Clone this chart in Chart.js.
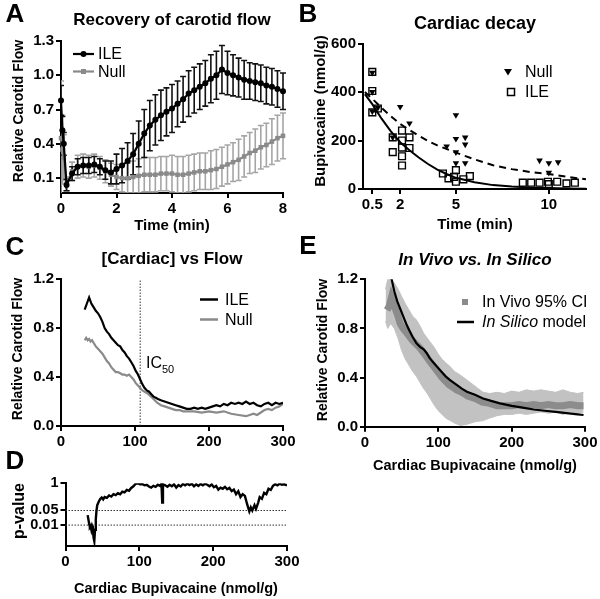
<!DOCTYPE html>
<html><head><meta charset="utf-8">
<script src="https://cdn.jsdelivr.net/npm/chart.js"></script>
<style>
html,body{margin:0;padding:0;background:#fff;}
#wrap{position:relative;width:600px;height:599px;overflow:hidden;background:#fff;font-family:'Liberation Sans',Arial,Helvetica,sans-serif;color:#000;}
canvas{position:absolute;left:0;top:0;}
svg{position:absolute;left:0;top:0;}
.t{position:absolute;white-space:nowrap;transform:translate(-50%,-50%);line-height:1;font-weight:bold;font-size:15px;}
.ti{font-size:17px;}
.v{transform:translate(-50%,-50%) rotate(-90deg);}
.lab{font-size:26px;}
.lg{position:absolute;white-space:nowrap;font-size:16px;line-height:1;transform:translateY(-50%);}
</style></head><body><div id="wrap">
<canvas id="cA" width="600" height="599"></canvas>
<canvas id="cB" width="600" height="599"></canvas>
<canvas id="cC" width="600" height="599"></canvas>
<canvas id="cD" width="600" height="599"></canvas>
<canvas id="cE" width="600" height="599"></canvas>
<svg width="600" height="599">
 <line x1="73" y1="54" x2="94" y2="54" stroke="#000" stroke-width="2.2"/><circle cx="83.5" cy="54" r="3" fill="#000"/>
 <line x1="73" y1="71.5" x2="94" y2="71.5" stroke="#8a8a8a" stroke-width="2.2"/><rect x="81" y="69" width="5" height="5" fill="#8a8a8a"/>
 <polygon points="504,69 512,69 508,75.5" fill="#000"/>
 <rect x="507.5" y="88.5" width="7" height="7" fill="none" stroke="#000" stroke-width="1.5"/>
 <line x1="200" y1="299.5" x2="218" y2="299.5" stroke="#000" stroke-width="2.5"/>
 <line x1="200" y1="319.5" x2="218" y2="319.5" stroke="#8a8a8a" stroke-width="2.5"/>
 <rect x="462" y="299" width="6" height="6" fill="#8a8a8a"/>
 <line x1="457" y1="322" x2="474" y2="322" stroke="#000" stroke-width="2.5"/>
</svg>
<div class="t lab" style="left:15px;top:13px">A</div>
<div class="t lab" style="left:308px;top:13px">B</div>
<div class="t lab" style="left:15px;top:246px">C</div>
<div class="t lab" style="left:15px;top:460px">D</div>
<div class="t lab" style="left:308px;top:245px">E</div>
<div class="t ti" style="left:172px;top:19px">Recovery of carotid flow</div>
<div class="t ti" style="left:475px;top:23px;font-size:18px">Cardiac decay</div>
<div class="t ti" style="left:172px;top:258px">[Cardiac] vs Flow</div>
<div class="t ti" style="left:475px;top:259px;font-style:italic">In Vivo vs. In Silico</div>
<div class="t" style="left:172px;top:224px">Time (min)</div>
<div class="t" style="left:475px;top:223px">Time (min)</div>
<div class="t" style="left:176px;top:588px;font-size:14.5px">Cardiac Bupivacaine (nmol/g)</div>
<div class="t" style="left:475px;top:465px;font-size:14.5px">Cardiac Bupivacaine (nmol/g)</div>
<div class="t v" style="left:18px;top:111px;font-size:14px">Relative Carotid Flow</div>
<div class="t v" style="left:319px;top:111px">Bupivacaine (nmol/g)</div>
<div class="t v" style="left:17px;top:349px;font-size:14px">Relative Carotid Flow</div>
<div class="t v" style="left:19px;top:511px;font-size:16px">p-value</div>
<div class="t v" style="left:322px;top:350px;font-size:14px">Relative Carotid Flow</div>
<div class="lg" style="left:98px;top:54px">ILE</div>
<div class="lg" style="left:98px;top:71.5px">Null</div>
<div class="lg" style="left:525px;top:72px">Null</div>
<div class="lg" style="left:525px;top:92px">ILE</div>
<div class="lg" style="left:225px;top:299.5px">ILE</div>
<div class="lg" style="left:225px;top:319.5px">Null</div>
<div class="lg" style="left:482px;top:302px">In Vivo 95% CI</div>
<div class="lg" style="left:482px;top:322px"><i>In Silico</i> model</div>
<div class="lg" style="left:146px;top:365px;font-size:16px">IC<sub style="font-size:11px">50</sub></div>
</div>
<script>
// ---------- Panel A: recovery of carotid flow ----------
const timeA   = [0,0.05,0.1,0.2,0.4,0.6,0.8,1.0,1.2,1.4,1.6,1.8,2.0,2.2,2.4,2.6,2.8,3.0,3.2,3.4,3.6,3.8,4.0,4.2,4.4,4.6,4.8,5.0,5.2,5.4,5.6,5.8,6.0,6.2,6.4,6.6,6.8,7.0,7.2,7.4,7.6,7.8,8.0];
const ileMean = [0.78,0.52,0.40,0.04,0.14,0.20,0.21,0.21,0.22,0.20,0.17,0.15,0.18,0.21,0.25,0.31,0.40,0.49,0.56,0.61,0.65,0.68,0.71,0.75,0.79,0.84,0.87,0.90,0.93,0.97,1.00,1.05,1.02,1.00,0.98,0.96,0.95,0.94,0.93,0.91,0.90,0.88,0.86];
const ileSem  = [0.13,0.12,0.10,0.05,0.06,0.07,0.07,0.07,0.07,0.07,0.08,0.10,0.13,0.15,0.16,0.18,0.20,0.21,0.22,0.22,0.22,0.21,0.21,0.20,0.20,0.20,0.20,0.20,0.20,0.21,0.21,0.21,0.19,0.18,0.17,0.17,0.16,0.16,0.16,0.16,0.16,0.16,0.16];
const nullMean= [0.45,0.35,0.28,0.05,0.16,0.20,0.21,0.20,0.21,0.19,0.16,0.13,0.11,0.10,0.10,0.11,0.12,0.13,0.13,0.13,0.14,0.14,0.14,0.13,0.13,0.14,0.15,0.16,0.16,0.17,0.18,0.20,0.22,0.24,0.26,0.29,0.32,0.34,0.37,0.39,0.42,0.45,0.47];
const nullSem = [0.50,0.30,0.20,0.06,0.08,0.10,0.10,0.10,0.10,0.10,0.10,0.10,0.11,0.12,0.13,0.14,0.15,0.15,0.15,0.15,0.15,0.15,0.16,0.16,0.16,0.16,0.16,0.16,0.16,0.17,0.17,0.17,0.17,0.17,0.18,0.18,0.18,0.19,0.19,0.19,0.20,0.20,0.20];
const ticksAx = [0,2,4,6,8];
const ticksAy = [0.1,0.4,0.7,1.0,1.3];

// ---------- Panel B: cardiac decay ----------
const nullBx = [0.5,0.5,0.5,0.8,1.6,2.0,2.5,4.5,5.0,5.0,5.0,5.0,5.5,5.5,5.5,9.5,10.0,10.0,10.5];
const nullBy = [480,400,320,335,213,339,271,176,305,207,152,107,213,184,107,118,107,67,111];
const ileBx  = [0.5,0.5,0.5,0.8,1.6,1.6,2.1,2.1,2.1,2.1,2.1,2.5,2.5,4.3,4.6,4.9,5.0,5.0,5.4,5.75,8.6,9.05,9.5,9.95,10.0,10.45,10.95,11.4];
const ileBy  = [483,404,316,332,213,152,241,200,171,135,97,213,169,64,44,50,78,30,40,53,26,26,26,30,20,30,23,26];
const fitIleX  = [0.1,0.5,1,1.5,2,2.5,3,3.5,4,4.5,5,6,7,8,9,10,11,12];
const fitIleY  = [391,350,290,238,193,160,130,103,80,62,46,28,16,10,6,4,2,1];
const fitNullX = [0.1,0.5,1,1.5,2,2.5,3,3.5,4,5,6,7,8,9,10,11,12];
const fitNullY = [400,372,335,300,268,243,220,198,180,150,122,98,82,70,62,50,40];
const ticksBx = [0.5,2,5,10];
const ticksBy = [0,200,400,600];

// ---------- Panel C: [Cardiac] vs flow ----------
const cIleX  = [32,35,38,41,44,47,50,53,56,59,62,65,68,71,74,77,80,83,86,89,92,95,98,101,104,107,110,113,116,119,122,125,128,131,135,140,145,150,155,160,165,170,175,180,185,190,195,200,205,210,215,220,225,230,235,240,245,250,255,260,265,270,275,280,285,290,295,300];
const cIleY  = [0.95,1.0,1.05,1.0,0.97,0.94,0.92,0.89,0.85,0.80,0.77,0.75,0.72,0.70,0.68,0.66,0.65,0.62,0.60,0.57,0.55,0.52,0.49,0.45,0.42,0.38,0.34,0.31,0.29,0.28,0.26,0.24,0.23,0.22,0.21,0.20,0.19,0.18,0.17,0.16,0.15,0.14,0.14,0.15,0.14,0.15,0.14,0.15,0.16,0.17,0.16,0.18,0.17,0.19,0.18,0.19,0.18,0.20,0.18,0.19,0.17,0.16,0.18,0.19,0.17,0.19,0.18,0.19];
const cNullX = [32,34,36,38,40,42,44,47,50,53,56,59,62,65,68,71,74,77,80,83,86,89,92,95,98,101,104,107,110,113,116,120,125,130,135,140,145,150,155,160,165,170,180,190,200,210,220,230,240,250,255,260,265,270,275,280,285,290,295,300];
const cNullY = [0.70,0.72,0.70,0.71,0.69,0.70,0.68,0.65,0.63,0.61,0.59,0.56,0.53,0.51,0.48,0.46,0.44,0.44,0.43,0.42,0.42,0.41,0.42,0.40,0.38,0.35,0.33,0.31,0.29,0.28,0.27,0.25,0.22,0.19,0.17,0.16,0.15,0.14,0.13,0.13,0.12,0.12,0.12,0.11,0.12,0.11,0.12,0.10,0.09,0.08,0.09,0.10,0.09,0.11,0.13,0.14,0.13,0.15,0.16,0.18];
const ic50 = 107;
const ticksCx = [0,100,200,300];
const ticksCy = [0.0,0.4,0.8,1.2];

// ---------- Panel D: p-value ----------
const pX = [30,32,33,34,35,36,37,38,39,40,41,42,43,45,47,49,51,53,56,59,62,65,68,71,74,77,80,83,86,89,92,95,98,101,104,107,110,113,116,119,122,125,128,130,131,132,135,138,141,144,147,150,153,156,159,162,165,168,171,174,177,180,183,186,189,192,195,198,201,204,207,210,213,216,219,222,225,228,231,234,237,240,243,246,249,251,253,256,258,261,263,266,269,272,275,278,281,284,287,290,293,296,300];
const pVal = [0.03,0.012,0.008,0.009,0.006,0.009,0.007,0.0025,0.0017,0.006,0.018,0.05,0.09,0.13,0.18,0.21,0.17,0.22,0.2,0.26,0.23,0.3,0.27,0.34,0.3,0.4,0.37,0.48,0.44,0.6,0.72,0.95,1.0,0.9,0.92,0.8,0.85,0.7,0.62,0.75,0.68,0.85,0.75,0.95,0.12,0.9,0.8,0.68,0.85,0.72,0.9,0.62,0.82,0.7,0.92,0.8,0.96,0.82,0.95,0.72,0.9,0.75,0.93,0.8,0.95,0.85,0.72,0.88,0.65,0.75,0.5,0.62,0.55,0.68,0.52,0.6,0.42,0.5,0.3,0.42,0.22,0.3,0.25,0.1,0.045,0.07,0.05,0.09,0.06,0.12,0.22,0.18,0.35,0.3,0.55,0.48,0.75,0.9,0.8,0.95,0.85,0.9,0.8];
const sigLevels = [0.05,0.01];
const ticksDx = [0,100,200,300];
const ticksDy = [0.01,0.05,1];
const labelsDy = ['0.01','0.05','1'];

// ---------- Panel E: in vivo vs in silico ----------
const eMeanX = [30,33,36,39,42,45,48,52,56,60,65,70,75,80,85,90,95,100,105,110,115,120,125,130,135,140,150,160,170,180,190,200,210,220,230,240,250,260,270,280,290,298];
const eMeanY = [0.95,0.98,1.05,1.0,0.95,0.9,0.84,0.8,0.77,0.74,0.7,0.67,0.64,0.6,0.56,0.52,0.48,0.44,0.4,0.37,0.34,0.32,0.3,0.285,0.27,0.25,0.23,0.2,0.19,0.17,0.17,0.17,0.18,0.17,0.18,0.17,0.18,0.17,0.17,0.18,0.17,0.17];
const eCiX  = [28,31,35,40,45,50,55,60,65,70,75,80,85,90,95,100,105,110,116,122,130,139,150,161,170,180,190,200,210,220,230,240,250,260,270,280,290,298];
const eCiHi = [1.12,1.2,1.2,1.17,1.12,1.06,1.0,0.95,0.9,0.87,0.82,0.76,0.72,0.68,0.64,0.59,0.55,0.52,0.49,0.45,0.42,0.38,0.33,0.28,0.27,0.28,0.27,0.29,0.28,0.3,0.29,0.3,0.29,0.28,0.3,0.28,0.27,0.28];
const eCiLo = [0.86,0.8,0.84,0.8,0.72,0.62,0.55,0.5,0.45,0.41,0.36,0.31,0.27,0.22,0.17,0.13,0.1,0.07,0.05,0.03,0.01,0.02,0.04,0.05,0.07,0.09,0.1,0.1,0.11,0.1,0.11,0.12,0.11,0.12,0.1,0.12,0.11,0.12];
const silX = [36,40,44,48,52,56,60,65,70,75,80,84,88,92,98,104,110,116,125,132,139,150,161,172,184,200,215,230,245,260,275,290,298];
const silY = [1.21,1.1,1.02,0.96,0.9,0.84,0.79,0.73,0.68,0.65,0.63,0.6,0.56,0.53,0.49,0.45,0.41,0.38,0.34,0.31,0.285,0.26,0.23,0.21,0.19,0.17,0.155,0.14,0.13,0.12,0.11,0.1,0.095];
const ticksEx = [0,100,200,300];
const ticksEy = [0.0,0.4,0.8,1.2];

// ---------- helpers ----------
const pts = (xs, ys) => xs.map((x, i) => ({x: x, y: ys[i]}));
Chart.defaults.font.family = "'Liberation Sans', Arial, sans-serif";
Chart.defaults.color = '#000';

const YW = 40, XH = 30, W = 600, H = 599;
function scaleCfg(s, axis) {
  return {
    type: s.type || 'linear', min: s.min, max: s.max,
    position: axis === 'x' ? 'bottom' : 'left',
    afterFit(sc) { if (axis === 'x') sc.height = XH; else sc.width = YW; },
    afterBuildTicks(sc) { sc.ticks = s.ticks.map(v => ({value: v})); },
    ticks: {
      color: '#000', font: {size: s.fs || 15, weight: 'bold'}, padding: 2, autoSkip: false, maxRotation: 0,
      callback: (v, i) => s.labels ? s.labels[i] : (s.dec != null ? Number(v).toFixed(s.dec) : String(v))
    },
    grid: {display: true, drawOnChartArea: false, drawTicks: true, tickLength: 5, color: '#000', lineWidth: 2},
    border: {display: true, color: '#000', width: 2}
  };
}
function makeChart(id, box, datasets, xs, ys, plugins) {
  return new Chart(document.getElementById(id), {
    type: 'scatter',
    data: {datasets: datasets},
    options: {
      responsive: false, animation: false, devicePixelRatio: 1,
      layout: {padding: {left: box.l - YW, top: box.t, right: W - box.r, bottom: H - box.b - XH}},
      plugins: {legend: {display: false}, tooltip: {enabled: false}, title: {display: false}},
      scales: {x: scaleCfg(xs, 'x'), y: scaleCfg(ys, 'y')}
    },
    plugins: plugins || []
  });
}
const errPlugin = {
  id: 'errbars',
  beforeDatasetsDraw(chart) {
    const ctx = chart.ctx, sx = chart.scales.x, sy = chart.scales.y, a = chart.chartArea;
    ctx.save();
    ctx.beginPath(); ctx.rect(a.left, a.top - 3, a.right - a.left + 4, a.bottom - a.top + 3); ctx.clip();
    for (let d = chart.data.datasets.length - 1; d >= 0; d--) {
      const ds = chart.data.datasets[d];
      if (!ds.err) continue;
      ctx.strokeStyle = ds.errColor; ctx.lineWidth = 1.6;
      ds.data.forEach((p, i) => {
        const e = ds.err[i], x = sx.getPixelForValue(p.x);
        const y1 = sy.getPixelForValue(p.y + e), y2 = sy.getPixelForValue(p.y - e);
        ctx.beginPath();
        ctx.moveTo(x, y1); ctx.lineTo(x, y2);
        ctx.moveTo(x - 3, y1); ctx.lineTo(x + 3, y1);
        ctx.moveTo(x - 3, y2); ctx.lineTo(x + 3, y2);
        ctx.stroke();
      });
    }
    ctx.restore();
  }
};

// ---------- A ----------
makeChart('cA', {l: 61, t: 41, r: 283, b: 193}, [
  {data: pts(timeA, ileMean), err: ileSem, errColor: '#111', showLine: true, borderColor: '#000', borderWidth: 2.2,
   pointStyle: 'circle', pointRadius: 3, backgroundColor: '#000', pointBorderWidth: 0, clip: 4},
  {data: pts(timeA, nullMean), err: nullSem, errColor: '#a5a5a5', showLine: true, borderColor: '#8a8a8a', borderWidth: 2.2,
   pointStyle: 'rect', pointRadius: 3.2, backgroundColor: '#8a8a8a', pointBorderWidth: 0, clip: 4}
], {min: 0, max: 8, ticks: ticksAx}, {min: -0.03, max: 1.3, ticks: ticksAy, dec: 1}, [errPlugin]);

// ---------- B ----------
makeChart('cB', {l: 363, t: 43.5, r: 586, b: 189}, [
  {data: pts(nullBx, nullBy), pointStyle: 'triangle', rotation: 180, pointRadius: 3.8, backgroundColor: '#000', borderColor: '#000', pointBorderWidth: 0, clip: 6},
  {data: pts(ileBx, ileBy), pointStyle: 'rect', pointRadius: 4.8, backgroundColor: 'rgba(0,0,0,0)', borderColor: '#000', pointBorderWidth: 1.4, clip: 6},
  {data: pts(fitIleX, fitIleY), showLine: true, pointRadius: 0, borderColor: '#000', borderWidth: 2},
  {data: pts(fitNullX, fitNullY), showLine: true, pointRadius: 0, borderColor: '#000', borderWidth: 2, borderDash: [7, 5]}
], {min: 0, max: 12, ticks: ticksBx}, {min: 0, max: 600, ticks: ticksBy});

// ---------- C ----------
makeChart('cC', {l: 61, t: 279, r: 283, b: 426}, [
  {data: pts(cIleX, cIleY), showLine: true, pointRadius: 0, borderColor: '#000', borderWidth: 2.2},
  {data: pts(cNullX, cNullY), showLine: true, pointRadius: 0, borderColor: '#8a8a8a', borderWidth: 2.2},
  {data: [{x: ic50, y: 0}, {x: ic50, y: 1.2}], showLine: true, pointRadius: 0, borderColor: '#333', borderWidth: 1, borderDash: [1.5, 1.5]}
], {min: 0, max: 300, ticks: ticksCx}, {min: 0, max: 1.2, ticks: ticksCy, dec: 1});

// ---------- D ----------
makeChart('cD', {l: 65.5, t: 483.3, r: 287, b: 546}, [
  {data: pts(pX, pVal), showLine: true, pointRadius: 0, borderColor: '#000', borderWidth: 2.4},
  {data: [{x: 0, y: sigLevels[0]}, {x: 300, y: sigLevels[0]}], showLine: true, pointRadius: 0, borderColor: '#333', borderWidth: 1, borderDash: [1.5, 1.5]},
  {data: [{x: 0, y: sigLevels[1]}, {x: 300, y: sigLevels[1]}], showLine: true, pointRadius: 0, borderColor: '#333', borderWidth: 1, borderDash: [1.5, 1.5]}
], {min: 0, max: 300, ticks: ticksDx}, {type: 'logarithmic', min: 0.001, max: 1, ticks: ticksDy, labels: labelsDy, fs: 14.5});

// ---------- E ----------
makeChart('cE', {l: 365, t: 279.3, r: 585, b: 426.7}, [
  {data: pts(silX, silY), showLine: true, pointRadius: 0, borderColor: '#000', borderWidth: 2.2},
  {data: pts(eMeanX, eMeanY), showLine: true, pointRadius: 0, borderColor: '#8c8c8c', borderWidth: 7},
  {data: pts(eCiX, eCiHi), showLine: true, pointRadius: 0, borderColor: '#c2c2c2', borderWidth: 1, fill: '+1', backgroundColor: '#c2c2c2'},
  {data: pts(eCiX, eCiLo), showLine: true, pointRadius: 0, borderColor: '#c2c2c2', borderWidth: 1}
], {min: 0, max: 300, ticks: ticksEx}, {min: 0, max: 1.2, ticks: ticksEy, dec: 1});
</script>
</body></html>
